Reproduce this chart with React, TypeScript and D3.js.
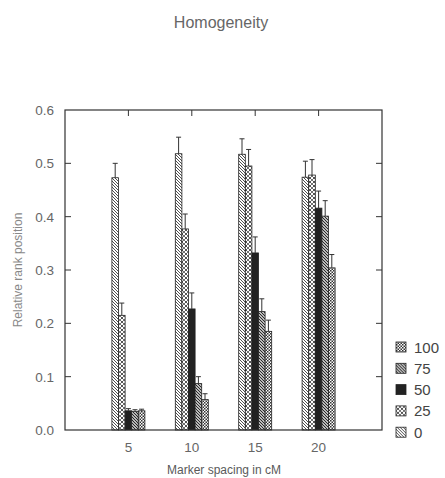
import * as d3 from "d3";
import { useEffect, useRef } from "react";

const spacings = [5, 10, 15, 20];
const series = ["0", "25", "50", "75", "100"];

// mean relative rank, one list per homogeneity level, per marker spacing
const mean0 = [0.473, 0.518, 0.517, 0.474];
const mean25 = [0.215, 0.377, 0.495, 0.478];
const mean50 = [0.036, 0.227, 0.332, 0.416];
const mean75 = [0.035, 0.087, 0.222, 0.401];
const mean100 = [0.036, 0.057, 0.185, 0.304];

const err0 = [0.027, 0.031, 0.029, 0.03];
const err25 = [0.023, 0.028, 0.031, 0.029];
const err50 = [0.004, 0.03, 0.03, 0.032];
const err75 = [0.003, 0.013, 0.024, 0.029];
const err100 = [0.003, 0.011, 0.021, 0.025];

const yTicks = [0, 0.1, 0.2, 0.3, 0.4, 0.5, 0.6];
const legendOrder = ["100", "75", "50", "25", "0"];

const W = 445;
const H = 478;
const M = { left: 65, top: 110, right: 382, bottom: 430 };
const GREY = "#5a5a5a";
const FONT = "Liberation Sans, Arial, sans-serif";

export default function App() {
	const svgRef = useRef<SVGSVGElement>(null);

	useEffect(() => {
		if (!svgRef.current) return;
		const svg = d3.select(svgRef.current);
		svg.selectAll("*").remove();

		const means = [mean0, mean25, mean50, mean75, mean100];
		const errs = [err0, err25, err50, err75, err100];

		const x = d3.scaleLinear().domain([0, 25]).range([M.left, M.right]);
		const y = d3.scaleLinear().domain([0, 0.6]).range([M.bottom, M.top]);
		const inner = d3.scaleBand().domain(series).range([-16.5, 16.5]);

		// fill patterns
		const defs = svg.append("defs");
		const diag = (id: string, size: number, sw: number) => {
			const p = defs
				.append("pattern")
				.attr("id", id)
				.attr("patternUnits", "userSpaceOnUse")
				.attr("width", size)
				.attr("height", size);
			p.append("rect").attr("width", size).attr("height", size).attr("fill", "#fff");
			p.append("path")
				.attr("d", `M0,0 L${size},${size} M${-size},0 L${size},${2 * size} M0,${-size} L${2 * size},${size}`)
				.attr("stroke", "#222")
				.attr("stroke-width", sw);
		};
		diag("p0", 3, 0.8);
		diag("p75", 3, 1.2);

		const p25 = defs
			.append("pattern")
			.attr("id", "p25")
			.attr("patternUnits", "userSpaceOnUse")
			.attr("width", 4)
			.attr("height", 4);
		p25.append("rect").attr("width", 4).attr("height", 4).attr("fill", "#fff");
		p25.append("path").attr("d", "M0,0 L4,4 M4,0 L0,4").attr("stroke", "#333").attr("stroke-width", 0.7);
		p25.append("circle").attr("cx", 2).attr("cy", 2).attr("r", 0.7).attr("fill", "#222");

		const p100 = defs
			.append("pattern")
			.attr("id", "p100")
			.attr("patternUnits", "userSpaceOnUse")
			.attr("width", 3)
			.attr("height", 3);
		p100.append("rect").attr("width", 3).attr("height", 3).attr("fill", "#fff");
		p100.append("rect").attr("width", 1.5).attr("height", 1.5).attr("fill", "#333");
		p100.append("rect").attr("x", 1.5).attr("y", 1.5).attr("width", 1.5).attr("height", 1.5).attr("fill", "#333");

		const fillFor: Record<string, string> = {
			"0": "url(#p0)",
			"25": "url(#p25)",
			"50": "#222",
			"75": "url(#p75)",
			"100": "url(#p100)",
		};

		// bars and error bars
		const bars = series.flatMap((s, si) =>
			spacings.map((sp, i) => ({ s, sp, v: means[si][i], e: errs[si][i] })),
		);
		const bw = inner.bandwidth();

		svg
			.append("g")
			.selectAll("rect")
			.data(bars)
			.join("rect")
			.attr("x", (d) => x(d.sp) + (inner(d.s) ?? 0))
			.attr("y", (d) => y(d.v))
			.attr("width", bw)
			.attr("height", (d) => y(0) - y(d.v))
			.attr("fill", (d) => fillFor[d.s])
			.attr("stroke", "#222")
			.attr("stroke-width", 0.8);

		const eg = svg.append("g").attr("stroke", "#333").attr("stroke-width", 1);
		bars.forEach((d) => {
			const cx = x(d.sp) + (inner(d.s) ?? 0) + bw / 2;
			eg.append("line").attr("x1", cx).attr("x2", cx).attr("y1", y(d.v)).attr("y2", y(d.v + d.e));
			eg.append("line")
				.attr("x1", cx - 2.5)
				.attr("x2", cx + 2.5)
				.attr("y1", y(d.v + d.e))
				.attr("y2", y(d.v + d.e));
		});

		// frame
		svg
			.append("rect")
			.attr("x", M.left)
			.attr("y", M.top)
			.attr("width", M.right - M.left)
			.attr("height", M.bottom - M.top)
			.attr("fill", "none")
			.attr("stroke", "#333")
			.attr("stroke-width", 1.2);

		// inward ticks
		const tg = svg.append("g").attr("stroke", "#333").attr("stroke-width", 1);
		yTicks.slice(1, -1).forEach((t) => {
			tg.append("line").attr("x1", M.left).attr("x2", M.left + 6).attr("y1", y(t)).attr("y2", y(t));
			tg.append("line").attr("x1", M.right).attr("x2", M.right - 6).attr("y1", y(t)).attr("y2", y(t));
		});
		spacings.forEach((t) => {
			tg.append("line").attr("x1", x(t)).attr("x2", x(t)).attr("y1", M.top).attr("y2", M.top + 6);
		});

		// tick labels
		svg
			.append("g")
			.selectAll("text")
			.data(yTicks)
			.join("text")
			.attr("x", M.left - 11)
			.attr("y", (d) => y(d) + 5)
			.attr("text-anchor", "end")
			.attr("font-size", 13.5)
			.attr("font-family", FONT)
			.attr("fill", "#666")
			.text((d) => d3.format(".1f")(d));

		svg
			.append("g")
			.selectAll("text")
			.data(spacings)
			.join("text")
			.attr("x", (d) => x(d))
			.attr("y", M.bottom + 22)
			.attr("text-anchor", "middle")
			.attr("font-size", 13.5)
			.attr("font-family", FONT)
			.attr("fill", "#666")
			.text((d) => d);

		// titles
		svg
			.append("text")
			.attr("x", 221)
			.attr("y", 28)
			.attr("text-anchor", "middle")
			.attr("font-size", 16)
			.attr("font-family", FONT)
			.attr("fill", "#666")
			.text("Homogeneity");

		svg
			.append("text")
			.attr("x", 224)
			.attr("y", 474)
			.attr("text-anchor", "middle")
			.attr("font-size", 12)
			.attr("font-family", FONT)
			.attr("fill", GREY)
			.text("Marker spacing in cM");

		svg
			.append("text")
			.attr("transform", `translate(22,${(M.top + M.bottom) / 2}) rotate(-90)`)
			.attr("text-anchor", "middle")
			.attr("font-size", 12)
			.attr("font-family", FONT)
			.attr("fill", "#888")
			.text("Relative rank position");

		// legend
		const lg = svg
			.append("g")
			.selectAll("g")
			.data(legendOrder)
			.join("g")
			.attr("transform", (_, i) => `translate(396,${347 + i * 21.3})`);
		lg.append("rect")
			.attr("x", 0)
			.attr("y", -5)
			.attr("width", 10)
			.attr("height", 10)
			.attr("fill", (d) => fillFor[d])
			.attr("stroke", "#222")
			.attr("stroke-width", 0.8);
		lg.append("text")
			.attr("x", 18)
			.attr("y", 5.5)
			.attr("font-size", 15)
			.attr("font-family", FONT)
			.attr("fill", "#444")
			.text((d) => d);
	}, []);

	return (
		<div style={{ position: "absolute", left: 0, top: 0 }}>
			<svg ref={svgRef} width={W} height={H} style={{ display: "block", background: "#fff" }} />
		</div>
	);
}
